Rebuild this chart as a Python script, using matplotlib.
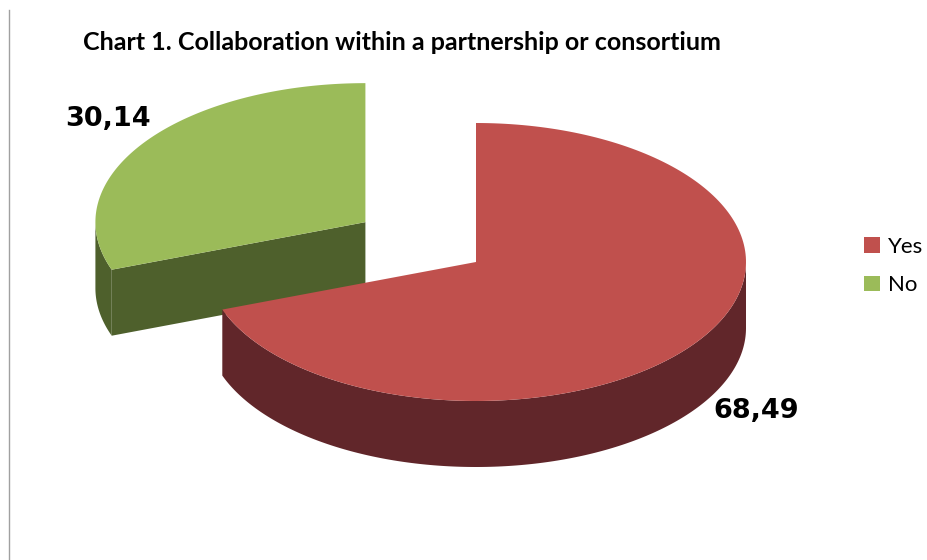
import numpy as np
import matplotlib.pyplot as plt
from matplotlib.patches import Polygon, Patch

# Data
labels = ['Yes', 'No']
values = [68.49, 30.14]
value_text = ['68,49', '30,14']

top_colors = ['#C0504D', '#9BBB59']
side_colors = ['#61262A', '#4E602C']
explode = [0.0, 0.5]

# Layout of the fake 3D pie (pixel units)
cx, cy = 476, 262
rx, ry = 270, 139
depth = 66
label_pos = [(756, 411), (108, 119)]

fig = plt.figure(figsize=(9.27, 5.60), dpi=100)
ax = fig.add_axes([0, 0, 1, 1])
ax.set_xlim(0, 927)
ax.set_ylim(560, 0)
ax.axis('off')


def arc(a_from, a_to, x0, y0, dz=0, n=200):
    a = np.radians(np.linspace(a_from, a_to, n))
    return np.column_stack((x0 + rx * np.cos(a), y0 - ry * np.sin(a) + dz))


# slice angles: start at 12 o'clock, go clockwise
fracs = np.array(values) / np.sum(values) * 360
ends = 90 - np.cumsum(fracs)
starts = ends + fracs

slices = []
for i in range(len(values)):
    a1, a2 = ends[i], starts[i]
    mid = np.radians((a1 + a2) / 2)
    x0 = cx + explode[i] * rx * np.cos(mid)
    y0 = cy - explode[i] * ry * np.sin(mid)
    slices.append((a1, a2, x0, y0))

# draw the slice furthest back first
order = sorted(range(len(values)), key=lambda i: slices[i][3])
for i in order:
    a1, a2, x0, y0 = slices[i]
    # radial faces that face the viewer
    for e, nrm in ((a1, a1 - 90), (a2, a2 + 90)):
        if np.sin(np.radians(nrm)) < -1e-6:
            ex, ey = arc(e, e, x0, y0, n=1)[0]
            face = [(x0, y0), (ex, ey), (ex, ey + depth), (x0, y0 + depth)]
            ax.add_patch(Polygon(face, closed=True, fc=side_colors[i], ec='none'))
    # outer wall, front half only
    ang = np.linspace(a1, a2, 400)
    front = np.sin(np.radians(ang)) <= 0
    if front.any():
        f = ang[front]
        top = arc(f.min(), f.max(), x0, y0)
        bot = arc(f.max(), f.min(), x0, y0, dz=depth)
        ax.add_patch(Polygon(np.vstack((top, bot)), closed=True,
                             fc=side_colors[i], ec='none'))
    # top face
    pts = np.vstack(([(x0, y0)], arc(a1, a2, x0, y0)))
    ax.add_patch(Polygon(pts, closed=True, fc=top_colors[i], ec='none'))

for i in range(len(values)):
    ax.text(label_pos[i][0], label_pos[i][1], value_text[i], fontsize=19.5,
            fontweight='bold', family='DejaVu Sans', ha='center', va='center')

ax.text(83, 42, 'Chart 1. Collaboration within a partnership or consortium',
        fontsize=18, fontweight='bold', family='Lato', ha='left', va='center')

handles = [Patch(fc=top_colors[i], ec='none', label=labels[i]) for i in range(len(values))]
ax.legend(handles=handles, loc='center left', bbox_to_anchor=(864 / 927, 1 - 266 / 560),
          frameon=False, prop={'family': 'Lato', 'size': 16}, handlelength=0.7,
          handleheight=0.7, handletextpad=0.4, labelspacing=0.85,
          borderpad=0, borderaxespad=0)

ax.axvline(9, ymin=0, ymax=1 - 10 / 560, color='#A0A0A0', lw=1)

fig.savefig('out.png', dpi=100)
